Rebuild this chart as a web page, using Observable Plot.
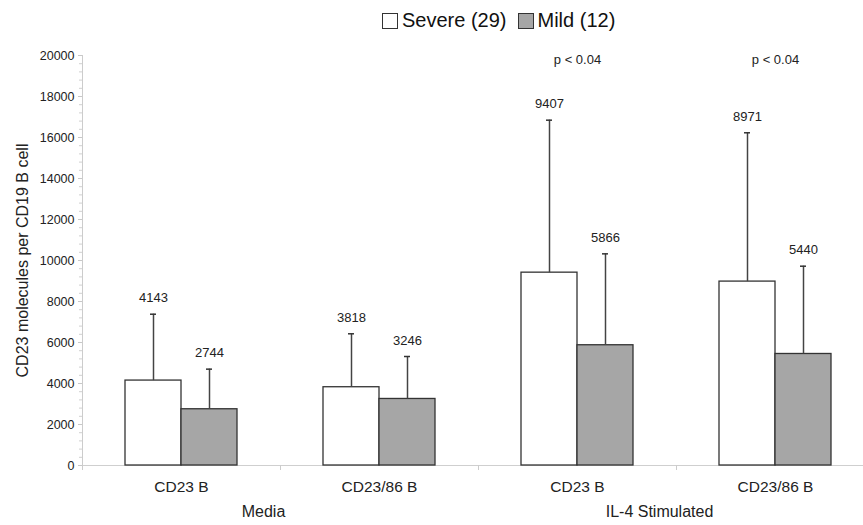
<!DOCTYPE html>
<html>
<head>
<meta charset="utf-8">
<script src="https://cdn.jsdelivr.net/npm/d3@7"></script>
<script src="https://cdn.jsdelivr.net/npm/@observablehq/plot@0.6"></script>
<style>
  html, body { margin: 0; padding: 0; background: #fff; overflow: hidden; }
  body { font-family: "Liberation Sans", Arial, Helvetica, sans-serif; width: 863px; height: 525px; position: relative; }
  #legend { position: absolute; left: 382px; top: 9px; display: flex; align-items: center; font-size: 20px; color: #111; white-space: nowrap; }
  #legend .sw { width: 14px; height: 14px; border: 1px solid #333; display: inline-block; margin-right: 4px; }
  #legend .item { display: flex; align-items: center; margin-right: 11px; }
  #chart { position: absolute; left: 0; top: 40px; }
</style>
</head>
<body>
<div id="legend"></div>
<div id="chart"></div>
<script>
const categories = ["CD23 B", "CD23/86 B", "CD23 B", "CD23/86 B"];
const conditions = ["Media", "Media", "IL-4 Stimulated", "IL-4 Stimulated"];
const seriesNames = ["Severe (29)", "Mild (12)"];
const seriesColors = ["#ffffff", "#a6a6a6"];
const severeMeans = [4143, 3818, 9407, 8971];
const mildMeans = [2744, 3246, 5866, 5440];
const severeSD = [3237, 2607, 7438, 7259];
const mildSD = [1956, 2071, 4459, 4282];
const pLabels = ["", "", "p < 0.04", "p < 0.04"];
const yTicks = [0, 2000, 4000, 6000, 8000, 10000, 12000, 14000, 16000, 18000, 20000];
const yMinorTicks = d3.range(0, 20001, 400);
const yLabel = "CD23 molecules per CD19 B cell";

const keys = categories.map((c, i) => `${conditions[i]}|${c}|${i}`);
const rows = [];
keys.forEach((k, i) => {
  rows.push({key: k, series: seriesNames[0], mean: severeMeans[i], top: severeMeans[i] + severeSD[i]});
  rows.push({key: k, series: seriesNames[1], mean: mildMeans[i], top: mildMeans[i] + mildSD[i]});
});
const catRows = keys.map((k, i) => ({key: k, label: categories[i]}));
const condRows = [];
conditions.forEach((c, i) => { if (i === 0 || conditions[i - 1] !== c) condRows.push({key: keys[i], label: c}); });
const pRows = keys.map((k, i) => ({key: k, label: pLabels[i]})).filter(d => d.label);

// legend
const legend = document.getElementById("legend");
seriesNames.forEach((s, i) => {
  const it = document.createElement("span");
  it.className = "item";
  it.innerHTML = `<span class="sw" style="background:${seriesColors[i]}"></span><span>${s}</span>`;
  legend.appendChild(it);
});

const marginLeft = 81, marginTop = 15, marginBottom = 60;
const plot = Plot.plot({
  width: 863,
  height: 485,
  marginLeft,
  marginRight: -12,
  marginTop,
  marginBottom,
  style: {fontFamily: "Liberation Sans, Arial, Helvetica, sans-serif", fontSize: "13px", color: "#222", background: "transparent", overflow: "visible"},
  fx: {domain: keys, padding: 0, axis: null},
  x: {domain: seriesNames, paddingInner: 0, paddingOuter: 0.74, axis: null},
  y: {domain: [0, 20000], axis: null},
  color: {domain: seriesNames, range: seriesColors},
  marks: [
    Plot.ruleY([0], {stroke: "#cfcfcf", strokeWidth: 1}),
    Plot.axisY({ticks: yMinorTicks, tickSize: 3, tickFormat: () => "", stroke: "#d0d0d0"}),
    Plot.axisY({ticks: yTicks, tickSize: 4, tickPadding: 4, tickFormat: d => String(d), stroke: "#c8c8c8", fill: "#222", fontSize: 12.5, label: null}),
    Plot.barY(rows, {fx: "key", x: "series", y: "mean", fill: "series", stroke: "#333", strokeWidth: 1.3}),
    Plot.ruleX(rows, {fx: "key", x: "series", y1: "mean", y2: "top", stroke: "#444", strokeWidth: 1.5}),
    Plot.tickY(rows, {fx: "key", x: "series", y: "top", insetLeft: 25, insetRight: 25, stroke: "#333", strokeWidth: 1.5}),
    Plot.text(rows, {fx: "key", x: "series", y: "top", dy: -16, text: d => String(d.mean), fontSize: 13, fill: "#222"}),
    Plot.text(pRows, {fx: "key", frameAnchor: "top", dy: -1, text: "label", fontSize: 13, fill: "#222"}),
    Plot.text(catRows, {fx: "key", frameAnchor: "bottom", dy: 26, text: "label", fontSize: 15.5, fill: "#222"}),
    Plot.text(condRows, {fx: "key", frameAnchor: "bottom-right", dx: -17, dy: 51, textAnchor: "middle", text: "label", fontSize: 16, fill: "#222"}),
    Plot.text([{key: keys[0], label: yLabel}], {fx: "key", frameAnchor: "left", dx: -60, rotate: -90, textAnchor: "middle", text: "label", fontSize: 16, fill: "#222"})
  ]
});
document.getElementById("chart").appendChild(plot);

// axis lines and band-boundary ticks derived from the plot's own scales
const fx = plot.scale("fx");
const y = plot.scale("y");
const g = d3.select(plot).append("g").attr("stroke", "#cccccc").attr("stroke-width", 1);
const x0 = fx.apply(keys[0]);
g.append("line").attr("x1", x0 + 0.5).attr("x2", x0 + 0.5).attr("y1", y.apply(20000)).attr("y2", y.apply(0) + 5);
keys.forEach(k => {
  const xb = fx.apply(k) + 0.5;
  g.append("line").attr("x1", xb).attr("x2", xb).attr("y1", y.apply(0)).attr("y2", y.apply(0) + 5);
});
</script>
</body>
</html>
